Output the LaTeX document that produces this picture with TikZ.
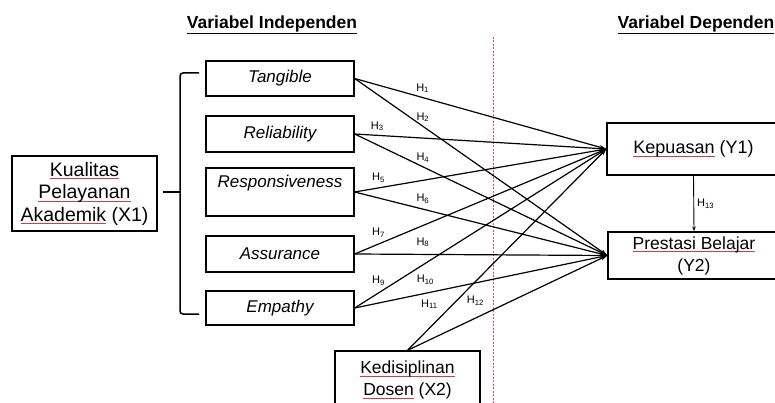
\documentclass[tikz,border=0pt]{standalone}
\usepackage{fontspec}
\setmainfont{Liberation Sans}
\usetikzlibrary{positioning, arrows.meta}

\definecolor{spellred}{RGB}{215,60,70}
\definecolor{seppink}{RGB}{235,70,120}
\newlength{\spw}
\newcommand{\spell}[1]{\settowidth{\spw}{#1}\rlap{\textcolor{spellred}{\rule[-3pt]{\spw}{0.6pt}}}#1}
\newcommand{\hyp}[1]{H\textsubscript{#1}}

\begin{document}
\begin{tikzpicture}[x=1pt, y=-1pt,
      box/.style={draw, line width=1.3pt, align=center, inner sep=0pt, font=\fontsize{17.5}{22}\selectfont},
      dim/.style={box, minimum width=148pt, font=\fontsize{17}{22}\selectfont\itshape},
      link/.style={line width=1.2pt, -{Stealth[length=7pt, width=4.5pt]}},
      hl/.style={font=\fontsize{11}{11}\selectfont, inner sep=1pt},
      ttl/.style={font=\fontsize{17.5}{20}\selectfont\bfseries}]

    \clip (0,0) rectangle (775,403);

    \node[ttl] (tind) at (272,25) {\underline{Variabel Independen}};
    \node[ttl] (tdep) at (696,25) {\underline{Variabel Dependen}};

    \draw[seppink, line width=0.8pt, dash pattern=on 2pt off 1.5pt] (493,37) -- (493,403);

    % dimensions of X1
    \node[dim, minimum height=35pt] (tang) at (280,78.5) {Tangible};
    \node[dim, minimum height=36pt] (reli) at (280,134) {Reliability};
    \node[dim, minimum height=48pt] (resp) at (280,192) {Responsiveness\\ ~};
    \node[dim, minimum height=36pt] (assu) at (280,254) {Assurance};
    \node[dim, minimum height=34pt] (empa) at (280,308) {Empathy};

    \node[box, minimum width=145pt, minimum height=75pt, font=\fontsize{19.5}{22.5}\selectfont] (kual) at (84.5,193.5)
      {\spell{Kualitas}\\ \spell{Pelayanan}\\ \spell{Akademik} (X1)};

    \draw[line width=1.5pt, rounded corners=3pt] (199,73) -- (180,73) -- (180,314) -- (199,314);
    \draw[line width=1.5pt] (163,192) -- (180,192);

    \node[box, minimum width=173pt, minimum height=52pt, font=\fontsize{18}{22}\selectfont] (kepu) at (693.5,149) {\spell{Kepuasan} (Y1)};
    \node[box, minimum width=172pt, minimum height=47pt] (pres) at (694,255.5) {\spell{Prestasi Belajar}\\ (Y2)};
    \node[box, minimum width=145pt, minimum height=58pt] (kedi) at (407.5,380) {\spell{Kedisiplinan}\\ \spell{Dosen} (X2)};

    \draw[link] (tang.east) -- node[hl, pos=.27, above=3pt]{\hyp{1}} (kepu.west);
    \draw[link] (tang.east) -- node[hl, pos=.27, above=3pt]{\hyp{2}} (pres.west);
    \draw[link] (reli.east) -- node[hl, pos=.09, above=3pt]{\hyp{3}} (kepu.west);
    \draw[link] (reli.east) -- node[hl, pos=.27, above=3pt]{\hyp{4}} (pres.west);
    \draw[link] (resp.east) -- node[hl, pos=.095, above=4pt]{\hyp{5}} (kepu.west);
    \draw[link] (resp.east) -- node[hl, pos=.27, above=4pt]{\hyp{6}} (pres.west);
    \draw[link] (assu.east) -- node[hl, pos=.095, above=5pt]{\hyp{7}} (kepu.west);
    \draw[link] (assu.east) -- node[hl, pos=.27, above=6pt]{\hyp{8}} (pres.west);
    \draw[link] (empa.east) -- node[hl, pos=.095, above=6pt]{\hyp{9}} (kepu.west);
    \draw[link] (empa.east) -- node[hl, pos=.28, above=7pt]{\hyp{10}} (pres.west);
    \draw[link] (kedi.north) -- node[hl, pos=.23, left=14pt]{\hyp{11}} (kepu.west);
    \draw[link] (kedi.north) -- node[hl, pos=.34, above=11pt]{\hyp{12}} (pres.west);

    \draw[line width=0.9pt, -{Stealth[length=5pt, width=3.5pt]}] (kepu.south) -- node[hl, right=2pt]{\hyp{13}} (pres.north);
  \end{tikzpicture}
\end{document}
